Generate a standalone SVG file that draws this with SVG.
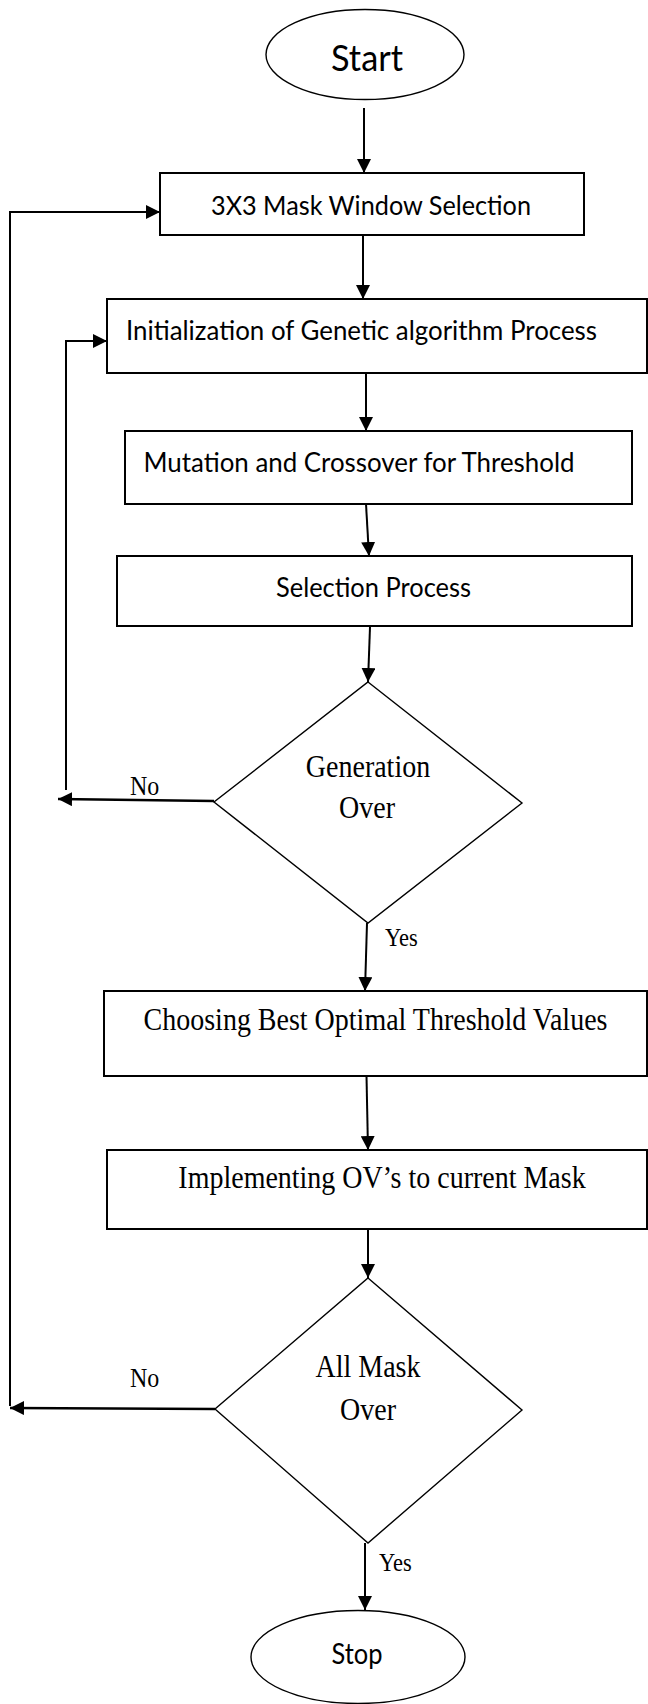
<svg xmlns="http://www.w3.org/2000/svg" width="648" height="1704" viewBox="0 0 648 1704">
<style>
.bg{fill:#fff}
.box{fill:#fff;stroke:#000;stroke-width:2}
.dia{fill:#fff;stroke:#000;stroke-width:1.4}
.ell{fill:#fff;stroke:#000;stroke-width:1.4}
.c{fill:none;stroke:#000;stroke-width:2}
.cn{fill:none;stroke:#000;stroke-width:2.6}
.s{font-family:Lato,"Liberation Sans",sans-serif;fill:#000}
.t{font-family:"Liberation Serif","Times New Roman",serif;fill:#000}
</style>
<defs>
<marker id="ah" markerUnits="userSpaceOnUse" markerWidth="14" markerHeight="14" refX="14" refY="7" orient="auto">
<path d="M0,0 L14,7 L0,14 z" fill="#000"/>
</marker>
</defs>
<rect class="bg" x="0" y="0" width="648" height="1704"/>
<g id="connectors">
<path class="c" d="M364,108 L364,173" marker-end="url(#ah)"/>
<path class="c" d="M363,235 L363,299" marker-end="url(#ah)"/>
<path class="c" d="M366,373 L366,431" marker-end="url(#ah)"/>
<path class="c" d="M366,504 L369,556" marker-end="url(#ah)"/>
<path class="c" d="M370,627 L368,682" marker-end="url(#ah)"/>
<path class="c" d="M367,923 L365,991" marker-end="url(#ah)"/>
<path class="c" d="M366.5,1076 L368,1150" marker-end="url(#ah)"/>
<path class="c" d="M368,1229 L368,1278" marker-end="url(#ah)"/>
<path class="c" d="M365,1543 L365,1610" marker-end="url(#ah)"/>
<path class="cn" d="M214,801 L58,799" marker-end="url(#ah)"/>
<path class="c" d="M66,790 L66,341 L107,341" marker-end="url(#ah)"/>
<path class="cn" d="M215,1409 L10,1408" marker-end="url(#ah)"/>
<path class="c" d="M10,1406 L10,212 L160,212" marker-end="url(#ah)"/>
<text class="t" transform="translate(130,795) scale(1,1.1)" font-size="24">No</text>
<text class="t" transform="translate(130,1387) scale(1,1.1)" font-size="24">No</text>
<text class="t" transform="translate(385,946) scale(1,1.1)" font-size="22.5">Yes</text>
<text class="t" transform="translate(379,1571) scale(1,1.1)" font-size="22.5">Yes</text>
</g>
<g id="start">
<ellipse class="ell" cx="365" cy="54.5" rx="99" ry="45"/>
<text class="s" x="331" y="70.5" font-size="37" textLength="72" lengthAdjust="spacingAndGlyphs">Start</text>
</g>
<g id="mask-window">
<rect class="box" x="160" y="173" width="424" height="62"/>
<text class="s" x="211" y="215" font-size="26.5" textLength="320" lengthAdjust="spacingAndGlyphs">3X3 Mask Window Selection</text>
</g>
<g id="init-ga">
<rect class="box" x="107" y="299" width="540" height="74"/>
<text class="s" x="126" y="340" font-size="27" textLength="471" lengthAdjust="spacingAndGlyphs">Initialization of Genetic algorithm Process</text>
</g>
<g id="mutation">
<rect class="box" x="125" y="431" width="507" height="73"/>
<text class="s" x="143.5" y="471.5" font-size="27" textLength="431" lengthAdjust="spacingAndGlyphs">Mutation and Crossover for Threshold</text>
</g>
<g id="selection">
<rect class="box" x="117" y="556" width="515" height="70"/>
<text class="s" x="276" y="597" font-size="27" textLength="195" lengthAdjust="spacingAndGlyphs">Selection Process</text>
</g>
<g id="generation-over">
<polygon class="dia" points="368,682 522,803 368,923 214,802"/>
<text class="t" transform="translate(368,777) scale(1,1.1)" font-size="28" text-anchor="middle">Generation</text>
<text class="t" transform="translate(367,818) scale(1,1.1)" font-size="28" text-anchor="middle">Over</text>
</g>
<g id="choosing">
<rect class="box" x="104" y="991" width="543" height="85"/>
<text class="t" transform="translate(375.5,1030) scale(1,1.1)" font-size="28" text-anchor="middle">Choosing Best Optimal Threshold Values</text>
</g>
<g id="implementing">
<rect class="box" x="107" y="1150" width="540" height="79"/>
<text class="t" transform="translate(382,1188) scale(1,1.1)" font-size="28" text-anchor="middle">Implementing OV’s to current Mask</text>
</g>
<g id="all-mask-over">
<polygon class="dia" points="368,1278 522,1410 368,1543 215,1409"/>
<text class="t" transform="translate(368,1377) scale(1,1.1)" font-size="28" text-anchor="middle">All Mask</text>
<text class="t" transform="translate(368,1420) scale(1,1.1)" font-size="28" text-anchor="middle">Over</text>
</g>
<g id="stop">
<ellipse class="ell" cx="358" cy="1657" rx="107" ry="46.5"/>
<text class="s" x="331.5" y="1664" font-size="29" textLength="51" lengthAdjust="spacingAndGlyphs">Stop</text>
</g>
</svg>
